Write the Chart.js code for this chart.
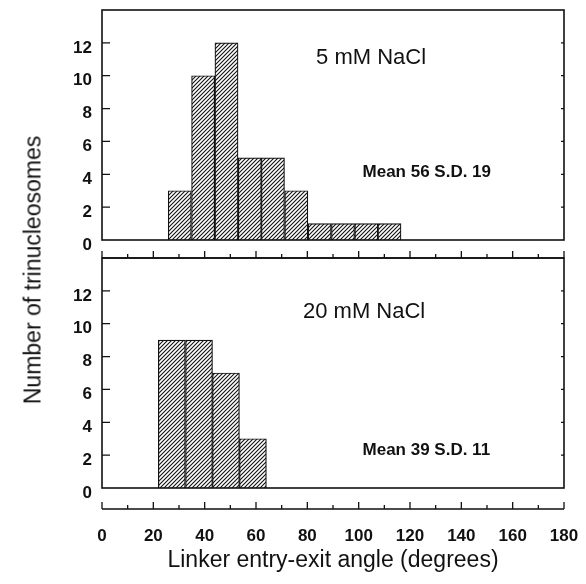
<!DOCTYPE html>
<html>
<head>
<meta charset="utf-8">
<script src="https://cdn.jsdelivr.net/npm/chart.js@4.4.6/dist/chart.umd.min.js"></script>
<style>
  html, body { margin: 0; padding: 0; background: #fff; }
  #wrap { position: relative; width: 586px; height: 584px; }
  #wrap canvas { position: absolute; left: 0; top: 0; }
  #ytitle {
    position: absolute; left: 33px; top: 270px;
    transform: translate(-50%, -50%) rotate(-90deg);
    white-space: nowrap; color: #111;
    font: 23px 'Liberation Sans', Arial, sans-serif;
  }
</style>
</head>
<body>
<div id="wrap">
  <canvas id="lowSalt" width="586" height="584"></canvas>
  <canvas id="highSalt" width="586" height="584"></canvas>
  <div id="ytitle"></div>
</div>
<script>
// histogram bins (bin centre in degrees) and counts
const lowSaltCenters = [30.3, 39.4, 48.5, 57.6, 66.6, 75.7, 84.8, 93.9, 103.0, 112.0];
const lowSaltCounts = [3, 10, 12, 5, 5, 3, 1, 1, 1, 1];
const highSaltCenters = [27.2, 37.8, 48.3, 58.8];
const highSaltCounts = [9, 9, 7, 3];

const angleMax = 180;
const angleStep = 20;
const countMax = 14;
const countStep = 2;

const panelTitles = ['5 mM NaCl', '20 mM NaCl'];
const panelStats = ['Mean 56 S.D. 19', 'Mean 39 S.D. 11'];
const xTitle = 'Linker entry-exit angle (degrees)';
const yTitle = 'Number of trinucleosomes';

const INK = '#111';
const FONT = "'Liberation Sans', Arial, sans-serif";

document.getElementById('ytitle').textContent = yTitle;

function hatchFill() {
  const c = document.createElement('canvas');
  c.width = 4; c.height = 4;
  const g = c.getContext('2d');
  g.fillStyle = '#fff';
  g.fillRect(0, 0, 4, 4);
  g.strokeStyle = INK;
  g.lineWidth = 1.1;
  g.beginPath();
  g.moveTo(-1, 5); g.lineTo(5, -1);
  g.moveTo(-1, 1); g.lineTo(1, -1);
  g.moveTo(3, 5); g.lineTo(5, 3);
  g.stroke();
  return g.createPattern(c, 'repeat');
}

// box, inward count ticks and the detached angle axis under each panel
const framePlugin = {
  id: 'frame',
  afterDatasetsDraw(chart, args, opts) {
    const { ctx, chartArea: a, scales: { x, y } } = chart;
    const base = y.getPixelForValue(0);
    ctx.save();
    ctx.strokeStyle = INK;
    ctx.lineWidth = 1.6;
    ctx.strokeRect(a.left, a.top, a.right - a.left, base - a.top);

    ctx.lineWidth = 1.3;
    ctx.beginPath();
    y.ticks.forEach(t => {
      if (t.value <= 0 || t.value >= countMax) return;
      const py = y.getPixelForValue(t.value);
      ctx.moveTo(a.left, py); ctx.lineTo(a.left + 8, py);
      ctx.moveTo(a.right, py); ctx.lineTo(a.right - 3, py);
    });

    const ay = opts.axisY;
    ctx.moveTo(a.left, ay); ctx.lineTo(a.right, ay);
    for (let v = 0; v <= angleMax; v += angleStep / 2) {
      const px = x.getPixelForValue(v);
      ctx.moveTo(px, ay);
      ctx.lineTo(px, ay - (v % angleStep === 0 ? 7 : 4));
    }
    ctx.stroke();
    ctx.restore();
  }
};

// free text placed in data coordinates
const notesPlugin = {
  id: 'notes',
  afterDraw(chart, args, opts) {
    const { ctx, scales: { x, y } } = chart;
    ctx.save();
    ctx.fillStyle = INK;
    ctx.textAlign = 'left';
    ctx.textBaseline = 'middle';
    (opts.items || []).forEach(n => {
      ctx.font = n.font;
      ctx.fillText(n.text, x.getPixelForValue(n.x), y.getPixelForValue(n.y));
    });
    ctx.restore();
  }
};

const fill = hatchFill();

function makePanel(id, centers, counts, cfg) {
  return new Chart(document.getElementById(id), {
    type: 'bar',
    data: {
      datasets: [{
        data: centers.map((c, i) => ({ x: c, y: counts[i] })),
        backgroundColor: fill,
        borderColor: INK,
        borderWidth: 1.2,
        barPercentage: 1,
        categoryPercentage: 1
      }]
    },
    options: {
      responsive: false,
      animation: false,
      events: [],
      layout: { padding: cfg.padding },
      plugins: {
        legend: { display: false },
        tooltip: { enabled: false },
        frame: { axisY: cfg.axisY },
        notes: { items: cfg.notes }
      },
      scales: {
        x: {
          type: 'linear',
          min: 0,
          max: angleMax,
          offset: false,
          display: cfg.showX,
          // tick marks are hidden; tickLength only pushes the labels down
          grid: { display: false, drawTicks: true, tickLength: 40, offset: false },
          border: { display: false },
          ticks: { stepSize: angleStep, maxRotation: 0, padding: 0, color: INK, font: { family: FONT, size: 17, weight: 'bold', lineHeight: 1 } },
          title: { display: true, text: xTitle, color: INK, padding: { top: 0, bottom: 10 }, font: { family: FONT, size: 23 } },
          afterFit: s => { s.height = cfg.xHeight; }
        },
        y: {
          min: 0,
          max: countMax,
          grid: { display: false, drawTicks: true, tickLength: 10 },
          border: { display: false },
          ticks: {
            stepSize: countStep,
            padding: 0,
            labelOffset: 5,
            color: INK,
            font: { family: FONT, size: 17, weight: 'bold', lineHeight: 1 },
            callback: v => (v < countMax ? v : '')
          },
          afterFit: s => { s.width = 102; }
        }
      }
    },
    plugins: [framePlugin, notesPlugin]
  });
}

makePanel('lowSalt', lowSaltCenters, lowSaltCounts, {
  padding: { top: 10, right: 22, bottom: 344, left: 0 },
  showX: false,
  xHeight: 0,
  axisY: 258,
  notes: [
    { text: panelTitles[0], x: 83.4, y: 11.1, font: `22px ${FONT}` },
    { text: panelStats[0], x: 101.5, y: 4.1, font: `bold 17px ${FONT}` }
  ]
});

makePanel('highSalt', highSaltCenters, highSaltCounts, {
  padding: { top: 258, right: 22, bottom: 0, left: 0 },
  showX: true,
  xHeight: 96,
  axisY: 509,
  notes: [
    { text: panelTitles[1], x: 78.3, y: 10.7, font: `22px ${FONT}` },
    { text: panelStats[1], x: 101.5, y: 2.3, font: `bold 17px ${FONT}` }
  ]
});
</script>
</body>
</html>
